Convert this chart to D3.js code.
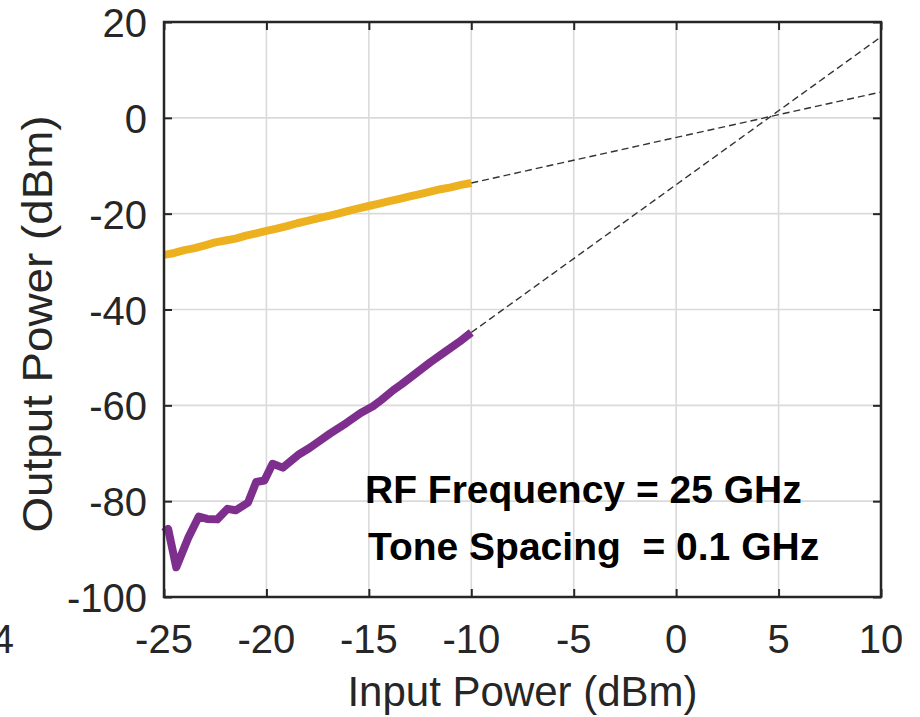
<!DOCTYPE html>
<html>
<head>
<meta charset="utf-8">
<script src="https://cdn.jsdelivr.net/npm/d3@7"></script>
<style>
  body { margin: 0; background: #fff; }
  svg { display: block; font-family: "Liberation Sans", Arial, sans-serif; }
  .tick-label { fill: #262626; font-size: 40px; }
  .axis-label { fill: #262626; font-size: 42px; }
  .note { fill: #000; font-size: 39px; font-weight: bold; }
</style>
</head>
<body>
<div id="chart"></div>
<script>
const xTicks = [-25, -20, -15, -10, -5, 0, 5, 10];
const yTicks = [-100, -80, -60, -40, -20, 0, 20];

// fundamental output (yellow)
const fundIn = [-25, -24.5, -24, -23.5, -23, -22.5, -22, -21.5, -21, -20.5, -20, -19.5, -19, -18.5, -18, -17.5,
  -17, -16.5, -16, -15.5, -15, -14.5, -14, -13.5, -13, -12.5, -12, -11.5, -11, -10.5, -10];
const fundOut = [-28.6, -28.2, -27.6, -27.2, -26.6, -26.0, -25.6, -25.2, -24.6, -24.1, -23.6, -23.1, -22.6, -22.0, -21.5, -21.0,
  -20.5, -20.0, -19.4, -18.9, -18.4, -17.9, -17.4, -16.9, -16.4, -15.9, -15.4, -14.9, -14.5, -14.0, -13.6];

// third-order intermod output (purple)
const im3In = [-25, -24.8, -24.4, -23.8, -23.3, -22.9, -22.4, -21.9, -21.5, -20.9, -20.5, -20.1, -19.7, -19.2,
  -18.4, -17.9, -17.5, -16.9, -16.1, -15.4, -14.8, -14.4, -13.8, -13.4, -12.7, -12.0, -11.3, -10.6, -10.0];
const im3Out = [-86.5, -85.8, -93.8, -87.5, -83.2, -83.7, -83.8, -81.6, -81.9, -80.3, -76.0, -75.7, -72.2, -73.0,
  -70.2, -68.9, -67.7, -65.9, -63.7, -61.6, -60.2, -58.9, -56.8, -55.6, -53.3, -51.0, -48.9, -46.8, -44.8];

// extrapolated fits (dashed)
const fundFitIn = [-10, 10];
const fundFitOut = [-13.6, 5.4];
const im3FitIn = [-10, 10];
const im3FitOut = [-44.8, 16.9];

const noteLines = ['RF Frequency = 25 GHz', 'Tone Spacing  = 0.1 GHz'];

const width = 920;
const height = 717;
const margin = { top: 22, right: 39, bottom: 120, left: 164 };
const innerW = width - margin.left - margin.right;
const innerH = height - margin.top - margin.bottom;

const svg = d3.select('#chart').append('svg').attr('width', width).attr('height', height);
const g = svg.append('g').attr('transform', `translate(${margin.left},${margin.top})`);

const x = d3.scaleLinear().domain([-25, 10]).range([0, innerW]);
const y = d3.scaleLinear().domain([-100, 20]).range([innerH, 0]);

// grid
g.append('g')
  .selectAll('line')
  .data(xTicks.slice(1, -1))
  .join('line')
  .attr('x1', (d) => x(d)).attr('x2', (d) => x(d))
  .attr('y1', 0).attr('y2', innerH)
  .attr('stroke', '#dadada').attr('stroke-width', 1.6);

g.append('g')
  .selectAll('line')
  .data(yTicks.slice(1, -1))
  .join('line')
  .attr('y1', (d) => y(d)).attr('y2', (d) => y(d))
  .attr('x1', 0).attr('x2', innerW)
  .attr('stroke', '#dadada').attr('stroke-width', 1.6);

// axes with inward ticks, mirrored on top and right
const tickLen = 8;
const axisStyle = (sel) => {
  sel.select('.domain').remove();
  sel.selectAll('.tick line').attr('stroke', '#262626').attr('stroke-width', 2);
  sel.selectAll('.tick text').remove();
};
g.append('g').attr('transform', `translate(0,${innerH})`)
  .call(d3.axisBottom(x).tickValues(xTicks).tickSizeInner(-tickLen).tickSizeOuter(0)).call(axisStyle);
g.append('g')
  .call(d3.axisTop(x).tickValues(xTicks).tickSizeInner(-tickLen).tickSizeOuter(0)).call(axisStyle);
g.append('g')
  .call(d3.axisLeft(y).tickValues(yTicks).tickSizeInner(-tickLen).tickSizeOuter(0)).call(axisStyle);
g.append('g').attr('transform', `translate(${innerW},0)`)
  .call(d3.axisRight(y).tickValues(yTicks).tickSizeInner(-tickLen).tickSizeOuter(0)).call(axisStyle);

// tick labels
g.append('g')
  .selectAll('text')
  .data(xTicks)
  .join('text')
  .attr('class', 'tick-label')
  .attr('x', (d) => x(d))
  .attr('y', innerH + 56)
  .attr('text-anchor', 'middle')
  .text((d) => d);

g.append('g')
  .selectAll('text')
  .data(yTicks)
  .join('text')
  .attr('class', 'tick-label')
  .attr('x', -17)
  .attr('y', (d) => y(d) + 15)
  .attr('text-anchor', 'end')
  .text((d) => d);

// clipped leftover label at the far left edge
svg.append('text').attr('class', 'tick-label').attr('x', 14).attr('y', margin.top + innerH + 56)
  .attr('text-anchor', 'end').text('4');

// dashed extrapolations
const line = d3.line().x((d) => x(d[0])).y((d) => y(d[1]));
[[fundFitIn, fundFitOut], [im3FitIn, im3FitOut]].forEach(([xs, ys]) => {
  g.append('path')
    .datum(d3.zip(xs, ys))
    .attr('d', line)
    .attr('fill', 'none')
    .attr('stroke', '#333')
    .attr('stroke-width', 1.4)
    .attr('stroke-dasharray', '7,4');
});

// measured curves
g.append('path')
  .datum(d3.zip(fundIn, fundOut))
  .attr('d', line)
  .attr('fill', 'none')
  .attr('stroke', '#EDB120')
  .attr('stroke-width', 8)
  .attr('stroke-linejoin', 'round');

g.append('path')
  .datum(d3.zip(im3In, im3Out))
  .attr('d', line)
  .attr('fill', 'none')
  .attr('stroke', '#7E2F8E')
  .attr('stroke-width', 8)
  .attr('stroke-linejoin', 'round');

// box
g.append('rect')
  .attr('width', innerW).attr('height', innerH)
  .attr('fill', 'none').attr('stroke', '#262626').attr('stroke-width', 2.5);

// annotation
g.append('g')
  .selectAll('text')
  .data(noteLines)
  .join('text')
  .attr('class', 'note')
  .attr('x', (d, i) => 201 + i * 3)
  .attr('y', (d, i) => 481 + i * 57)
  .attr('xml:space', 'preserve')
  .style('white-space', 'pre')
  .text((d) => d);

// axis titles
svg.append('text')
  .attr('class', 'axis-label')
  .attr('x', margin.left + innerW / 2)
  .attr('y', 706)
  .attr('text-anchor', 'middle')
  .text('Input Power (dBm)');

svg.append('text')
  .attr('class', 'axis-label')
  .attr('transform', `translate(52,324) rotate(-90) scale(1.09,1)`)
  .attr('text-anchor', 'middle')
  .text('Output Power (dBm)');
</script>
</body>
</html>
